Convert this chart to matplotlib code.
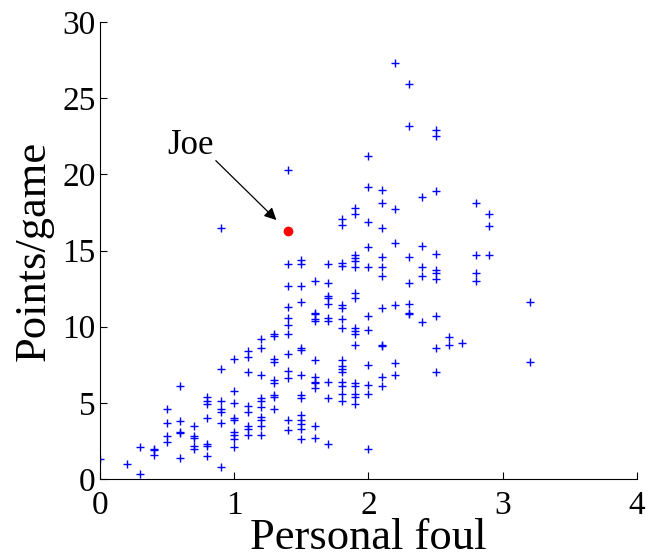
import numpy as np
import matplotlib.pyplot as plt

plt.rcParams['font.family'] = ['Liberation Serif', 'DejaVu Serif']

# personal fouls per game, grouped by value, with points/game for each player
foul_groups = [0.0, 0.2, 0.3, 0.4, 0.5, 0.6, 0.7, 0.8, 0.9, 1.0, 1.1, 1.2, 1.3, 1.4,
               1.5, 1.6, 1.7, 1.8, 1.9, 2.0, 2.1, 2.2, 2.3, 2.4, 2.5, 2.6, 2.7, 2.8,
               2.9, 3.2]
points_groups = [
    [1.3],
    [1.0],
    [2.1, 0.3],
    [2.0, 1.9, 1.6],
    [4.6, 3.7, 2.8, 2.4],
    [6.1, 3.8, 3.1, 3.0, 1.4],
    [3.5, 2.8, 2.7, 2.2, 2.0],
    [5.4, 5.1, 4.9, 4.0, 2.3, 2.2, 1.5],
    [16.5, 7.2, 5.1, 4.6, 4.4, 3.7, 0.8],
    [7.9, 5.8, 5.0, 4.0, 3.9, 3.1, 2.9, 2.6, 2.1],
    [8.4, 8.0, 7.0, 4.8, 4.4, 3.5, 3.3, 2.9],
    [9.2, 8.6, 6.8, 5.3, 5.1, 4.7, 4.1, 3.9, 3.5, 2.9],
    [9.5, 9.4, 7.9, 7.7, 6.5, 6.3, 5.5, 5.4, 4.6],
    [20.3, 14.1, 12.7, 11.3, 10.6, 10.1, 9.5, 8.2, 7.1, 6.6, 3.9, 3.2],
    [14.4, 14.1, 12.7, 11.6, 8.6, 8.5, 6.8, 5.5, 5.3, 4.2, 3.9, 3.6, 3.3, 2.6],
    [13.0, 10.9, 10.8, 10.5, 10.4, 7.8, 6.7, 6.4, 6.3, 6.0, 3.5, 2.7],
    [14.1, 12.9, 12.0, 11.9, 11.5, 10.6, 10.4, 6.4, 5.3, 2.3],
    [17.1, 16.7, 14.2, 14.0, 11.4, 11.2, 10.5, 9.9, 7.8, 7.4, 7.2, 7.0, 6.4,
     6.1, 5.6, 5.1],
    [17.8, 17.4, 14.7, 14.5, 14.3, 13.9, 12.2, 11.9, 9.9, 9.7, 9.5, 8.8, 6.3,
     6.1, 5.6, 5.4, 4.9],
    [21.2, 19.2, 16.9, 15.2, 13.9, 10.7, 9.8, 7.5, 6.2, 5.6, 2.0],
    [19.0, 18.1, 16.5, 14.6, 13.9, 13.3, 11.2, 8.8, 8.7, 6.7, 6.1],
    [27.3, 17.7, 15.5, 11.4, 7.6, 6.8],
    [25.9, 23.2, 14.6, 12.9, 11.5, 10.9, 10.8],
    [18.5, 15.3, 13.9, 13.3, 10.3],
    [22.9, 22.5, 18.9, 14.8, 13.7, 13.5, 13.1, 10.7, 8.6, 7.0],
    [9.3, 8.8],
    [8.9],
    [18.1, 14.7, 13.5, 13.0],
    [17.4, 16.6, 14.7],
    [11.6, 7.7],
]

joe_foul = 1.4
joe_points = 16.3

fouls = np.concatenate([[f] * len(p) for f, p in zip(foul_groups, points_groups)])
points = np.concatenate(points_groups)

fig = plt.figure(figsize=(6.48, 5.57), dpi=100)
ax = fig.add_axes([0.154, 0.14, 0.829, 0.8205])

ax.plot(fouls, points, '+', color='#0000ff', markersize=6, markeredgewidth=1.0)
ax.plot(joe_foul, joe_points, 'o', color='red', markersize=6)

# label and pointer for Joe
ax.text(0.505, 21.35, 'Joe', fontsize=25, ha='left', va='baseline')
ax.annotate('', xy=(1.315, 17.0), xytext=(0.864, 20.9),
            arrowprops=dict(arrowstyle='-|>', color='black', lw=0.9,
                            mutation_scale=18, shrinkA=0, shrinkB=0))

ax.set_xlim(0, 4)
ax.set_ylim(0, 30)
ax.set_xticks([0, 1, 2, 3, 4])
ax.set_yticks([0, 5, 10, 15, 20, 25, 30])
ax.tick_params(direction='in', length=5, width=0.8, labelsize=24)
ax.tick_params(axis='x', pad=8)
ax.tick_params(axis='y', pad=3)
ax.spines['top'].set_visible(False)
ax.spines['right'].set_visible(False)

ax.set_xlabel('Personal foul', fontsize=32, labelpad=-2)
ax.set_ylabel('Points/game', fontsize=32, labelpad=6)

fig.savefig('out.png', dpi=100)
